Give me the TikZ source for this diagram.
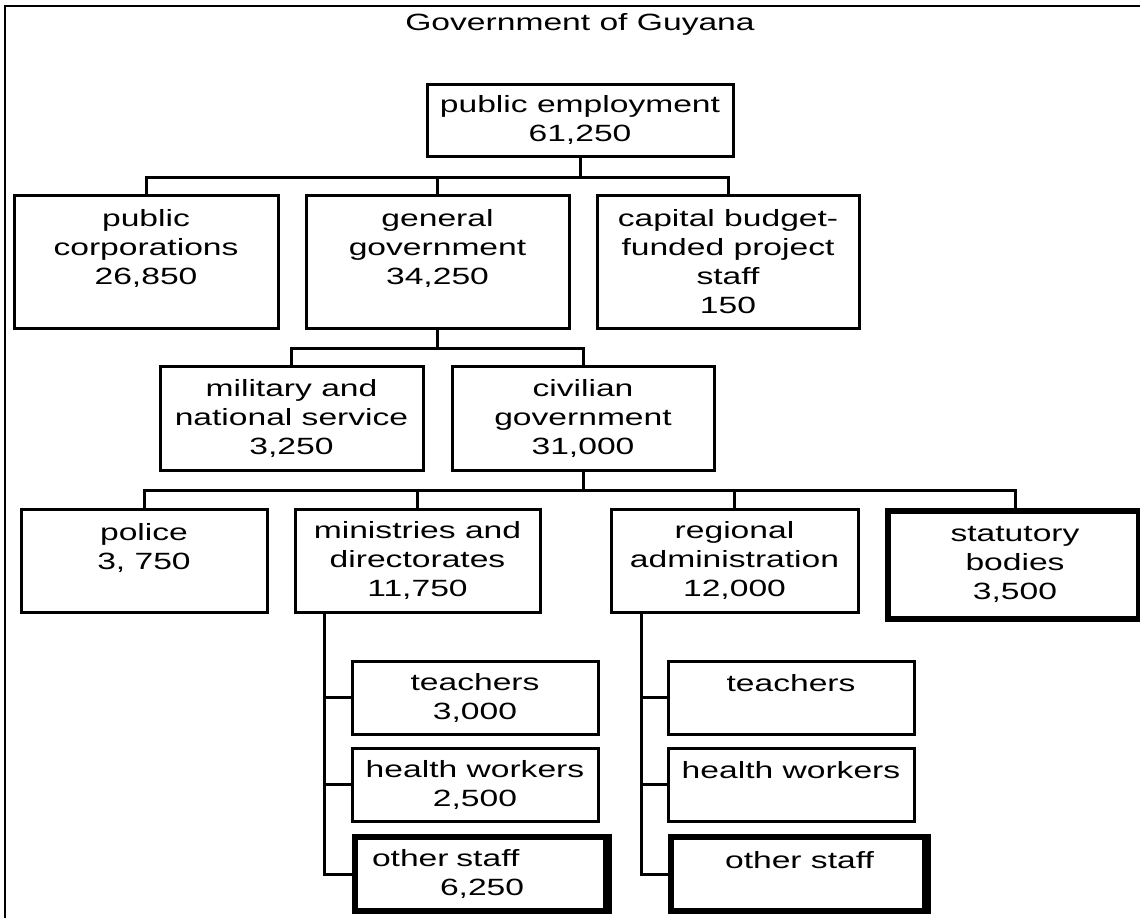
\documentclass[tikz,border=0pt]{standalone}
\usepackage{fontspec}
\setmainfont{Liberation Sans}[FakeStretch=1.43]
\usetikzlibrary{calc,positioning}

\newcommand{\boxfont}{\fontsize{11.75}{14.5}\selectfont}

\tikzset{
  box/.style={draw, line width=1.5pt, align=center, inner sep=0pt, font=\boxfont},
  heavybox/.style={box, line width=3pt,
    path picture={
      \draw[white, line width=0.5pt]
        ([xshift=0.9pt,yshift=-1.5pt]path picture bounding box.north west) --
        ([xshift=0.9pt,yshift=1.5pt]path picture bounding box.south west);
      \draw[line width=2pt]
        ([xshift=-2pt]path picture bounding box.north east) --
        ([xshift=-2pt]path picture bounding box.south east);
    }},
  link/.style={line width=1.5pt}
}

\begin{document}
\begin{tikzpicture}[x=0.5pt,y=-0.5pt]

\useasboundingbox (0,0) rectangle (1140,918);

% Frame and title
\draw[line width=1pt] (5,918) -- (5,6) -- (1140,6);
\node[font=\boxfont] (title) at (580,24) {Government of Guyana};

% Top box
\node[box, minimum width=153pt, minimum height=36pt] (pe) at (580,120)
  {public employment\\61,250};

% Second row
\node[box, minimum width=132pt, minimum height=66.5pt] (pc) at (146,261.5)
  {public\\corporations\\26,850\\~};
\node[box, minimum width=131.5pt, minimum height=66.5pt] (gg) at (437.5,261.5)
  {general\\government\\34,250\\~};
\node[box, minimum width=131pt, minimum height=66.5pt] (cb) at (728,261.5)
  {capital budget-\\funded project\\staff\\150};

% Third row
\node[box, minimum width=131.5pt, minimum height=52pt] (mil) at (291.5,418)
  {military and\\national service\\3,250};
\node[box, minimum width=131pt, minimum height=52pt] (civ) at (583,418)
  {civilian\\government\\31,000};

% Fourth row
\node[box, minimum width=123pt, minimum height=51.5pt] (police) at (144,560.5)
  {police\\3, 750\\~};
\node[box, minimum width=122.5pt, minimum height=51.5pt] (min) at (417.5,560.5)
  {ministries and\\directorates\\11,750};
\node[box, minimum width=123.5pt, minimum height=51.5pt] (reg) at (734.5,560.5)
  {regional\\administration\\12,000};
\node[heavybox, minimum width=127pt, minimum height=54pt] (stat) at (1015,564.5)
  {statutory\\bodies\\3,500};

% Staff under ministries
\node[box, minimum width=123pt, minimum height=36.5pt] (t1) at (475,697.5)
  {teachers\\3,000};
\node[box, minimum width=123pt, minimum height=36.5pt] (h1) at (475,784.5)
  {health workers\\2,500};
\node[heavybox, minimum width=127pt, minimum height=36.75pt, align=left,
  text width=110pt] (o1) at (482,874)
  {other staff\\\hspace*{34pt}6,250};

% Staff under regions
\node[box, minimum width=123pt, minimum height=36.5pt] (t2) at (791,697.5)
  {teachers\\~};
\node[box, minimum width=123pt, minimum height=36.5pt] (h2) at (791,784.5)
  {health workers\\~};
\node[heavybox, minimum width=128.5pt, minimum height=36.75pt] (o2) at (799.5,874)
  {other staff\\~};

% Bus lines
\coordinate (bus1) at (580,177);
\coordinate (bus2) at (437,348);
\coordinate (bus3) at (583,490);
\coordinate (mtop) at (324,612);
\coordinate (rtop) at (641,612);

% Connectors
\draw[link] (pe.south) -- (pe.south |- bus1);
\draw[link] (pc.north) |- (bus1) -| (cb.north);
\draw[link] (gg.north) -- (gg.north |- bus1);

\draw[link] (gg.south) -- (gg.south |- bus2);
\draw[link] (mil.north) |- (bus2) -| (civ.north);

\draw[link] (civ.south) -- (civ.south |- bus3);
\draw[link] (police.north) |- (bus3) -| (stat.north);
\draw[link] (min.north) -- (min.north |- bus3);
\draw[link] (reg.north) -- (reg.north |- bus3);

\draw[link] (mtop) |- (o1.west);
\draw[link] (t1.west) -- (t1.west -| mtop);
\draw[link] (h1.west) -- (h1.west -| mtop);

\draw[link] (rtop) |- (o2.west);
\draw[link] (t2.west) -- (t2.west -| rtop);
\draw[link] (h2.west) -- (h2.west -| rtop);

\end{tikzpicture}
\end{document}
